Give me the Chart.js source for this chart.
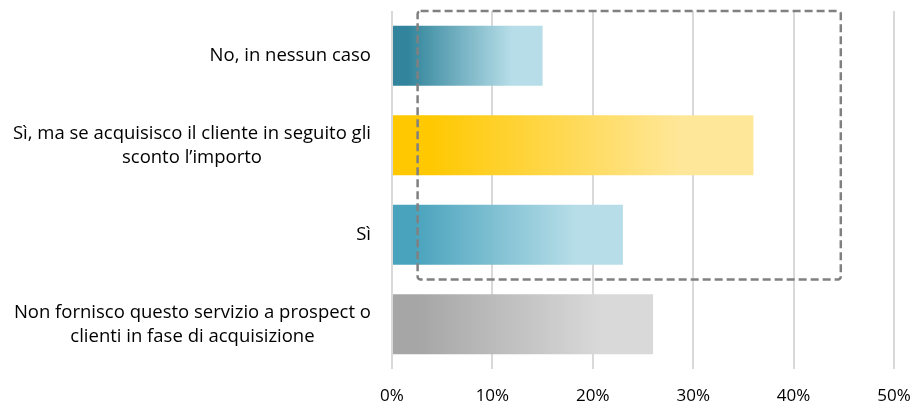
<!DOCTYPE html>
<html>
<head>
<meta charset="utf-8">
<script src="https://cdn.jsdelivr.net/npm/chart.js@4"></script>
<style>
  html, body { margin: 0; padding: 0; background: #ffffff; }
  #wrap { width: 914px; height: 406px; position: relative; }
</style>
</head>
<body>
<div id="wrap"><canvas id="c" width="914" height="406"></canvas></div>
<script>
// Survey answers (each answer may wrap onto several lines)
const categories = [
  ["No, in nessun caso"],
  ["Sì, ma se acquisisco il cliente in seguito gli", "sconto l’importo"],
  ["Sì"],
  ["Non fornisco questo servizio a prospect o", "clienti in fase di acquisizione"]
];
// Share of respondents, percent
const shares = [15, 36, 23, 26];
// X axis range and tick step, percent
const axisMin = 0;
const axisMax = 50;
const axisStep = 10;
// Gradient colours per bar: left (saturated) to right (pale)
const startColors = ["#31849B", "#FFC800", "#4AA3BD", "#A6A6A6"];
const endColors   = ["#B7DEE8", "#FFE799", "#B7DEE8", "#D9D9D9"];
// Highlight frame: x range in percent, spanning the first three answers
const frameFrom = 2.55;
const frameTo = 44.7;
const frameFirst = 0;
const frameLast = 2;

const FONT = "'Open Sans', sans-serif";
const LABEL_SIZE = 18.5;
const TICK_SIZE = 17;

function barGradient(ctx) {
  const chart = ctx.chart;
  const i = ctx.dataIndex;
  if (!chart.chartArea || i === undefined) return startColors[i || 0];
  const xs = chart.scales.x;
  const x0 = xs.getPixelForValue(0);
  const x1 = xs.getPixelForValue(shares[i]);
  const g = chart.ctx.createLinearGradient(x0, 0, x1, 0);
  g.addColorStop(0, startColors[i]);
  g.addColorStop(0.1, startColors[i]);
  g.addColorStop(0.8, endColors[i]);
  g.addColorStop(1, endColors[i]);
  return g;
}

// Draws the answer labels: block right-aligned to the axis, lines centred inside the block
const answerLabels = {
  id: 'answerLabels',
  afterDraw(chart) {
    const c = chart.ctx;
    const ys = chart.scales.y;
    const right = ys.right - 21;
    const lineH = 24;
    c.save();
    c.font = LABEL_SIZE + "px " + FONT;
    c.fillStyle = "#000000";
    c.textAlign = "center";
    c.textBaseline = "middle";
    categories.forEach((lines, i) => {
      const widest = Math.max(...lines.map(l => c.measureText(l).width));
      const cx = right - widest / 2;
      const cy = ys.getPixelForValue(i);
      const top = cy - (lines.length - 1) * lineH / 2;
      lines.forEach((l, k) => c.fillText(l, cx, top + k * lineH));
    });
    c.restore();
  }
};

// Dashed frame around the first three answers
const highlightFrame = {
  id: 'highlightFrame',
  afterDatasetsDraw(chart) {
    const c = chart.ctx;
    const xs = chart.scales.x, ys = chart.scales.y;
    const band = ys.getPixelForValue(1) - ys.getPixelForValue(0);
    const l = xs.getPixelForValue(frameFrom);
    const r = xs.getPixelForValue(frameTo);
    const t = ys.getPixelForValue(frameFirst) - band / 2;
    const b = ys.getPixelForValue(frameLast) + band / 2;
    c.save();
    c.strokeStyle = "#808080";
    c.lineWidth = 2.5;
    c.setLineDash([8, 4]);
    c.beginPath();
    if (c.roundRect) c.roundRect(l, t, r - l, b - t, 3); else c.rect(l, t, r - l, b - t);
    c.stroke();
    c.restore();
  }
};

new Chart(document.getElementById('c'), {
  type: 'bar',
  data: {
    labels: categories,
    datasets: [{
      data: shares,
      backgroundColor: barGradient,
      borderWidth: 0,
      barPercentage: 0.67,
      categoryPercentage: 1
    }]
  },
  options: {
    indexAxis: 'y',
    responsive: false,
    animation: false,
    layout: { padding: { top: 11, right: 20, bottom: 0, left: 0 } },
    plugins: { legend: { display: false }, tooltip: { enabled: false } },
    scales: {
      x: {
        min: axisMin,
        max: axisMax,
        border: { display: false },
        grid: { color: "#D9D9D9", lineWidth: 2, drawTicks: false },
        ticks: {
          stepSize: axisStep,
          padding: 17,
          color: "#000000",
          font: { family: FONT, size: TICK_SIZE },
          callback: v => v + "%"
        },
        afterFit: s => { s.height = 37; s.paddingLeft = 0; s.paddingRight = 0; }
      },
      y: {
        border: { display: false },
        grid: { display: false, drawTicks: false },
        ticks: { display: false },
        afterFit: s => { s.width = 392; }
      }
    }
  },
  plugins: [answerLabels, highlightFrame]
});
</script>
</body>
</html>
